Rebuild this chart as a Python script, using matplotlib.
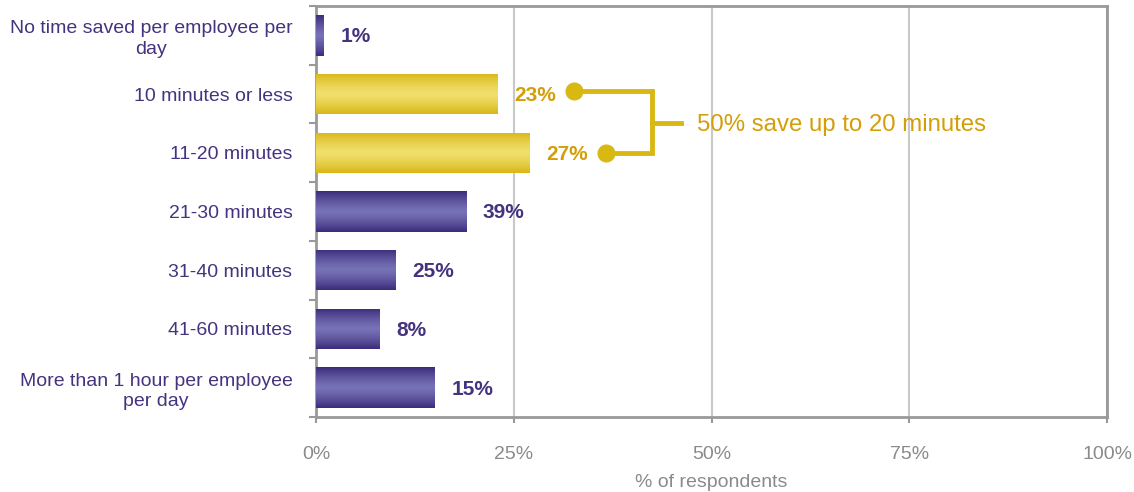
import numpy as np
import matplotlib
matplotlib.use("Agg")
import matplotlib.pyplot as plt
from matplotlib.colors import LinearSegmentedColormap

plt.rcParams['font.family'] = ['Liberation Sans', 'DejaVu Sans']

categories = ["No time saved per employee per\nday", "10 minutes or less", "11-20 minutes",
              "21-30 minutes", "31-40 minutes", "41-60 minutes",
              "More than 1 hour per employee\nper day"]
# bar lengths as drawn in the picture
bar_lengths = [1, 23, 27, 19, 10, 8, 15]
# value labels as printed in the picture
value_labels = ["1%", "23%", "27%", "39%", "25%", "8%", "15%"]
highlight = [False, True, True, False, False, False, False]
x_ticks = [0, 25, 50, 75, 100]
x_ticklabels = ["0%", "25%", "50%", "75%", "100%"]
x_label = "% of respondents"
callout = "50% save up to 20 minutes"

PURPLE_DARK, PURPLE_LIGHT = "#3d2c7c", "#7672b6"
GOLD_DARK, GOLD_LIGHT = "#d8b818", "#f1df6c"
TEXT_PURPLE = "#45337f"
TEXT_GOLD = "#d39e08"
BRACKET = "#d9b812"
GRAY = "#999999"

fig = plt.figure(figsize=(11.34, 4.92), dpi=100)
ax = fig.add_axes([316/1134, 1-417/492, (1107-316)/1134, (417-6)/492])

n = len(categories)
ypos = np.arange(n)
bar_h = 0.69
bars = ax.barh(ypos, bar_lengths, height=bar_h, color="none", edgecolor="none", zorder=3)

grad = np.abs(np.linspace(-1, 1, 64))[:, None] ** 1.3
cm_p = LinearSegmentedColormap.from_list("p", [PURPLE_LIGHT, PURPLE_DARK])
cm_g = LinearSegmentedColormap.from_list("g", [GOLD_LIGHT, GOLD_DARK])
for b, hl in zip(bars, highlight):
    x0, y0 = b.get_x(), b.get_y()
    w, h = b.get_width(), b.get_height()
    im = ax.imshow(grad, cmap=cm_g if hl else cm_p, aspect="auto",
                   extent=(x0, x0 + w, y0 + h, y0), zorder=3, interpolation="bilinear")
    im.set_clip_path(b)

for b, lab, hl in zip(bars, value_labels, highlight):
    ax.annotate(lab, (b.get_width(), b.get_y() + b.get_height()/2),
                xytext=(12, -1), textcoords="offset points", ha="left", va="center",
                fontsize=15, fontweight="bold", color=TEXT_GOLD if hl else TEXT_PURPLE, zorder=5)

ax.set_xlim(0, 100)
ax.set_ylim(n - 0.5, -0.5)

ax.set_xticks(x_ticks)
ax.set_xticklabels(x_ticklabels, fontsize=14, color="#8a8a8a")
ax.tick_params(axis="x", direction="out", length=4, width=1.5, color=GRAY, pad=17)
ax.set_xlabel(x_label, fontsize=14, color="#8a8a8a", labelpad=8)

ax.set_yticks(ypos)
ax.set_yticklabels(categories, fontsize=14, color=TEXT_PURPLE, linespacing=1.25)
for t in ax.get_yticklabels():
    t.set_multialignment("center")
ax.tick_params(axis="y", which="major", length=0, pad=17)
ax.set_yticks(np.arange(n + 1) - 0.5, minor=True)
ax.tick_params(axis="y", which="minor", direction="out", length=5, width=1.5, color=GRAY)

ax.grid(axis="x", color="#c8c8c8", linewidth=1.5, zorder=0)
ax.set_axisbelow(True)
for s in ax.spines.values():
    s.set_color(GRAY)
    s.set_linewidth(2)

# bracket callout
y1, y2 = ypos[1] - 0.05, ypos[2]
xd1, xd2, xv, xt = 32.6, 36.7, 42.5, 46.1
ym = (y1 + y2) / 2 + 0.02
ax.plot([xd1, xv, xv, xd2], [y1, y1, y2, y2], color=BRACKET, lw=3.5, zorder=4,
        solid_joinstyle="miter", clip_on=False)
ax.plot([xv, xt], [ym, ym], color=BRACKET, lw=3.5, zorder=4)
ax.plot([xd1, xd2], [y1, y2], "o", color=BRACKET, ms=12, zorder=5)
ax.text(48.2, ym + 0.03, callout, fontsize=17.3, color=TEXT_GOLD, va="center", ha="left", zorder=5)

fig.savefig("out.png", dpi=100)
